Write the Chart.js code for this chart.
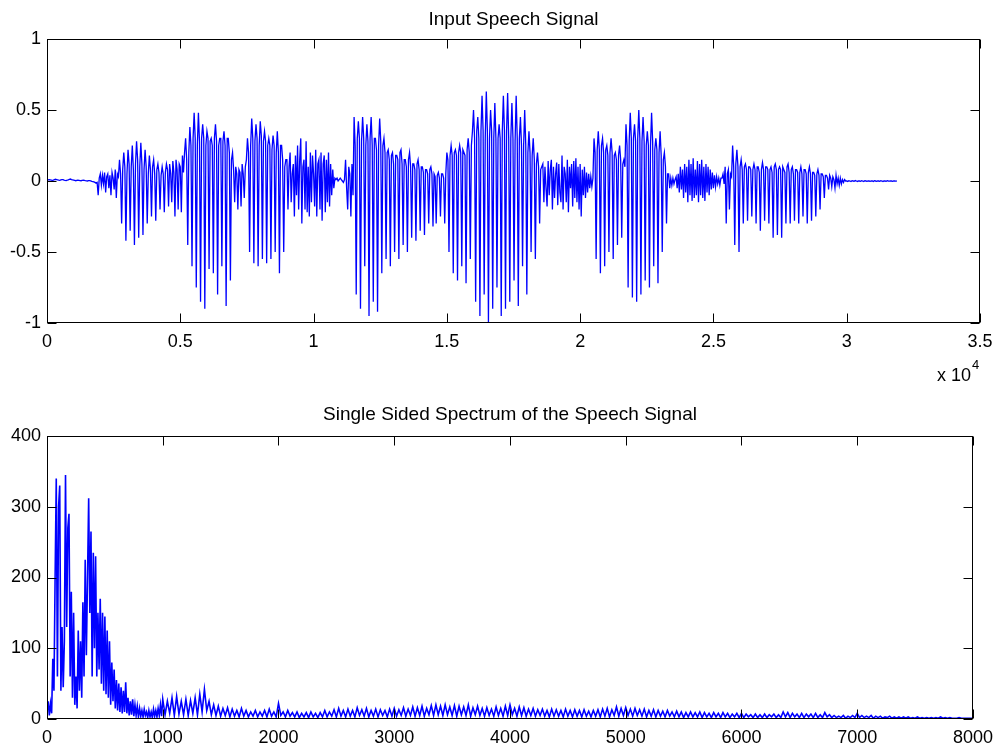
<!DOCTYPE html>
<html><head><meta charset="utf-8">
<script src="https://cdn.jsdelivr.net/npm/chart.js@4.4.1/dist/chart.umd.min.js"></script>
<style>
html,body{margin:0;padding:0;background:#fff;}
#wrap{position:relative;width:1001px;height:746px;overflow:hidden;}
.c{position:absolute;left:0;width:1001px;}
</style></head><body>
<div id="wrap">
<div class="c" style="top:0;height:390px"><canvas id="c1"></canvas></div>
<div class="c" style="top:390px;height:356px"><canvas id="c2"></canvas></div>
</div>
<script>
// ---- data ----
const signalTitle = "Input Speech Signal";
const spectrumTitle = "Single Sided Spectrum of the Speech Signal";
const signalSampleStep = 40;        // samples between plotted points
const signalXTicks = [0,5000,10000,15000,20000,25000,30000,35000];
const signalYTicks = [-1,-0.5,0,0.5,1];
const signal = [
 // 0 - 0.19 (x10^4): silence
 0.005,0.008,0.010,0.008,0.006,0.004,0.006,0.010,0.012,0.010,
 0.008,0.006,0.005,0.008,0.010,0.009,0.006,0.004,0.003,0.006,
 0.008,0.012,0.014,0.010,0.008,0.006,0.004,0.002,0.004,0.006,
 0.005,0.003,0.002,0.004,0.006,0.004,0.002,0.001,0.000,0.002,
 0.003,0.001,-0.002,-0.004,-0.006,-0.010,-0.015,-0.010,
 // 0.19 - 0.27
 -0.10,0.02,0.05,-0.03,0.04,-0.02,0.06,-0.08,0.03,0.05,
 -0.05,0.04,-0.10,0.06,0.02,-0.06,0.08,-0.12,0.05,0.03,
 // 0.27 - 0.45
 0.15,0.05,-0.30,0.08, 0.20,0.10,-0.42,0.05, 0.22,0.12,-0.35,0.10, 0.25,0.08,-0.45,0.12,
 0.28,0.15,-0.40,0.10, 0.27,0.12,-0.38,0.08, 0.22,0.10,-0.30,0.05, 0.18,0.08,-0.25,0.10,
 0.15,0.05,-0.28,0.08, 0.12,0.06,-0.20,0.04, 0.10,0.05,-0.22,0.06, 0.12,
 // 0.45 - 0.52
 0.08,-0.18,0.12,0.05, -0.15,0.14,0.06,-0.25, 0.15,0.08,-0.20,0.12, 0.10,-0.22,0.18,0.06, 0.20,
 // 0.52 - 0.70
 0.30,0.15,-0.45,0.20, 0.38,0.25,-0.60,0.30, 0.48,0.30,-0.75,0.25, 0.48,0.28,-0.85,0.30,
 0.40,0.30,-0.90,0.25, 0.35,0.30,-0.62,0.28, 0.30,0.25,-0.65,0.30, 0.40,0.28,-0.80,0.25,
 0.30,0.30,-0.60,0.28, 0.35,0.25,-0.88,0.30, 0.30,0.20,-0.70,0.15, 0.20,
 // 0.70 - 0.75
 0.08,-0.15,0.10,0.05, -0.20,0.08,0.06,-0.18, 0.12,0.05,-0.12,0.10, 0.15,
 // 0.75 - 0.90
 0.30,0.20,-0.50,0.25, 0.44,0.30,-0.58,0.28, 0.40,0.30,-0.60,0.25, 0.42,0.32,-0.55,0.28,
 0.35,0.28,-0.58,0.25, 0.30,0.25,-0.55,0.22, 0.32,0.25,-0.50,0.20, 0.35,0.20,-0.65,0.25,
 0.25,0.15,-0.50,0.10, 0.15,
 // 0.90 - 1.08
 0.15,-0.20,0.10,0.20,-0.15,0.05,0.12,-0.25,0.18,-0.10,
 0.25,-0.20,0.15,0.30,-0.30,0.10,0.15,-0.20,0.28,-0.22,
 0.10,-0.25,0.20,-0.15,0.18,0.05,-0.18,0.22,-0.25,0.12,
 0.15,-0.20,0.20,-0.28,0.12,0.18,-0.22,0.15,-0.15,0.20,
 -0.18,0.12,-0.10,0.08,-0.05,
 // 1.08 - 1.15
 0.02,0.01,0.02,0.00,0.01,0.02,0.01,0.00,-0.01,0.01,
 0.15,-0.05,-0.20,0.10,0.05,-0.25,0.12,-0.10,
 // 1.15 - 1.27
 0.45,0.25,-0.80,0.30, 0.42,0.30,-0.90,0.28, 0.45,0.30,-0.60,0.25, 0.40,0.28,-0.95,0.30,
 0.45,0.25,-0.85,0.30, 0.30,0.22,-0.92,0.25, 0.44,0.28,-0.65,0.25, 0.30,0.20,
 // 1.27 - 1.45
 -0.55,0.20,0.22,0.15, -0.60,0.18,0.20,0.12, -0.50,0.18,0.18,0.15, -0.55,0.20,0.22,0.12,
 -0.45,0.15,0.15,0.10, -0.50,0.15,0.20,0.10, -0.40,0.12,0.12,0.08, -0.42,0.12,0.15,0.08,
 -0.35,0.10,0.10,0.06, -0.38,0.08,0.08,0.05, -0.30,0.08,0.10,0.05, -0.32,
 // 1.45 - 1.50
 0.05,0.03,-0.30,0.04, 0.06,0.02,-0.25,0.05, 0.05,0.02,-0.30,0.05,
 // 1.50 - 1.60
 0.20,0.15,-0.50,0.18, 0.25,0.18,-0.65,0.20, 0.22,0.18,-0.70,0.20, 0.25,0.20,-0.60,0.22,
 0.20,0.18,-0.72,0.22, 0.30,0.20,-0.55,0.25, 0.35,
 // 1.60 - 1.72
 0.50,0.30,-0.85,0.35, 0.45,0.30,-0.95,0.35, 0.60,0.35,-0.80,0.30, 0.63,0.35,-1.00,0.30,
 0.50,0.35,-0.90,0.30, 0.55,0.30,-0.75,0.30, 0.40,0.30,-0.95,0.35, 0.60,0.35,
 // 1.72 - 1.86
 -0.90,0.35,0.62,0.30, -0.85,0.30,0.55,0.30, -0.70,0.28,0.60,0.30, -0.88,0.30,0.45,0.25,
 -0.60,0.25,0.50,0.25, -0.80,0.20,0.35,0.20, -0.50,0.18,0.30,0.15, -0.55,0.12,0.20,0.10,
 -0.30,0.08,0.10,
 // 1.86 - 2.05
 0.12,-0.15,0.10,-0.05,-0.18,0.14,-0.10,0.08,0.15,-0.20,
 0.10,-0.12,0.05,0.13,-0.17,0.12,-0.08,-0.15,0.18,-0.20,
 0.10,0.05,-0.15,0.15,-0.22,0.10,-0.05,0.12,-0.18,0.14,
 -0.12,0.16,-0.15,0.10,-0.20,0.12,-0.25,0.08,-0.10,0.10,
 -0.12,0.06,-0.08,0.05,-0.05,0.03,-0.04,0.02,
 // 2.05 - 2.17
 0.30,0.20,-0.55,0.22, 0.35,0.22,-0.65,0.25, 0.30,0.20,-0.60,0.22, 0.25,0.18,-0.50,0.20,
 0.30,0.20,-0.55,0.18, 0.20,0.15,-0.45,0.18, 0.25,0.15,-0.40,0.12, 0.15,0.10,
 // 2.17 - 2.33
 0.40,0.25,-0.75,0.28, 0.48,0.30,-0.82,0.30, 0.40,0.28,-0.85,0.30, 0.50,0.30,-0.80,0.28,
 0.45,0.28,-0.70,0.25, 0.35,0.25,-0.75,0.25, 0.48,0.28,-0.60,0.22, 0.30,0.22,-0.72,0.20,
 0.35,0.18,-0.50,0.15, 0.20,0.10,-0.30,0.05,
 // 2.33 - 2.36
 0.05,-0.05,0.02,-0.03,0.02,-0.02,0.01,
 // 2.36 - 2.53
 0.03,-0.05,0.05,-0.08,0.10,-0.06,0.08,-0.12,0.12,-0.08,
 0.10,-0.15,0.15,-0.10,0.12,-0.14,0.16,-0.12,0.08,-0.10,
 0.14,-0.15,0.12,-0.10,0.15,-0.12,0.10,-0.14,0.12,-0.08,
 0.10,-0.10,0.08,-0.06,0.06,-0.05,0.04,-0.04,0.03,-0.02,
 0.02,-0.03,0.02,
 // 2.53 - 2.57
 0.02,0.05,-0.02,0.10,-0.30,0.05,0.08,-0.20,0.05,0.03,
 // 2.57 - 2.78
 0.25,0.10,-0.45,0.12, 0.22,0.10,-0.50,0.10, 0.15,0.08,-0.30,0.10, 0.12,0.08,-0.28,0.10,
 0.10,0.08,-0.25,0.08, 0.12,0.08,-0.30,0.10, 0.10,0.06,-0.35,0.08, 0.13,0.08,-0.28,0.10,
 0.10,0.08,-0.30,0.08, 0.10,0.06,-0.40,0.10, 0.12,0.08,-0.38,0.08, 0.10,0.08,-0.40,0.10,
 0.08,0.06,-0.30,0.10,
 // 2.78 - 2.93
 0.12,0.06,-0.30,0.08, 0.10,0.05,-0.28,0.08, 0.08,0.06,-0.30,0.06, 0.10,0.05,-0.25,0.08,
 0.08,0.05,-0.30,0.06, 0.10,0.05,-0.28,0.06, 0.06,0.04,-0.25,0.05, 0.08,0.04,-0.20,0.05,
 0.05,0.03,-0.12,0.04, 0.04,0.02,
 // 2.93 - 3.00
 -0.06,0.04,0.02,-0.04,0.03,0.01,-0.05,0.04,-0.02,0.02,
 -0.03,0.02,-0.02,0.01,-0.01,0.01,0.00,
 // 3.00 - 3.19: silence
 0.000,-0.004,0.002,0.000,-0.003,0.002,0.000,-0.002,0.003,0.000,
 -0.003,0.001,0.000,-0.002,0.002,0.000,-0.003,0.002,0.000,-0.002,
 0.001,0.000,-0.002,0.001,0.000,-0.003,0.002,0.000,-0.002,0.001,
 0.000,-0.002,0.002,0.000,-0.003,0.001,0.000,-0.002,0.002,0.000,
 -0.001,0.001,0.000,-0.002,0.001,0.000,-0.001,0.000
];

const spectrumXTicks = [0,1000,2000,3000,4000,5000,6000,7000,8000];
const spectrumYTicks = [0,100,200,300,400];
const spectrumLowStep = 10;         // Hz between points, 0 - 990 Hz
const spectrumLow = [
 10,25,5,22,8,85,40,200,340,60,
 300,330,40,130,45,110,345,130,270,290,
 60,180,30,150,20,60,15,125,40,110,
 30,165,60,225,90,200,312,150,265,60,
 235,100,230,60,150,70,170,50,150,40,
 145,35,125,30,110,20,80,25,70,15,
 55,12,50,10,45,8,40,10,52,8,
 30,5,25,6,28,4,20,5,18,3,
 15,4,12,3,14,5,10,2,12,3,
 10,2,14,4,12,3,15,5,20,4
];
const spectrumHighStart = 1000;     // Hz
const spectrumHighStep = 20;        // Hz between points, 1000 - 8000 Hz
const spectrumHigh = [
 28,6,25,8,30,5,32,7,25,6,
 28,5,26,8,30,6,35,10,42,12,
 25,6,20,5,18,4,15,5,16,3,
 14,4,12,3,15,4,12,3,10,4,
 12,3,10,4,12,3,14,4,10,3,
 22,5,10,3,12,4,9,3,10,2,
 8,3,9,2,10,3,8,2,9,3,
 12,3,10,4,13,3,15,4,12,3,
 14,4,12,3,16,5,13,4,15,3,
 12,4,14,3,13,5,12,3,14,4,
 15,4,13,5,16,4,14,5,17,4,
 16,5,18,4,15,6,19,5,20,6,
 18,5,20,6,17,5,19,4,18,6,
 17,5,20,4,16,6,18,5,15,4,
 16,5,14,4,17,5,15,4,18,5,
 20,6,15,4,17,5,16,4,14,5,
 15,4,13,5,14,4,12,3,14,4,
 13,4,12,3,14,4,12,3,13,4,
 12,3,13,4,11,3,12,4,13,3,
 14,4,15,3,13,5,17,4,15,5,
 16,5,14,4,15,5,13,4,14,3,
 12,4,13,3,12,4,11,3,12,4,
 10,3,11,3,10,2,9,3,10,3,
 9,3,10,2,9,3,8,2,9,3,
 8,2,9,3,8,2,7,3,8,2,
 8,2,7,3,6,2,7,2,6,2,
 7,2,6,3,7,2,6,2,10,3,
 9,2,8,3,7,2,8,2,7,3,
 7,2,8,2,6,2,9,3,6,2,
 5,2,4,2,5,1,4,2,5,2,
 8,2,5,2,4,2,5,1,4,2,
 4,1,3,2,4,1,3,1,3,1,
 3,1,3,1,2,1,3,1,2,1,
 2,1,2,1,2,1,3,1,2,1,
 2,1,1,1,2,1,1,1,1,1,
 1
];

// ---- rendering ----
const FONT = "'Liberation Sans', Arial, Helvetica, sans-serif";

const boxTicks = {
  id: 'boxTicks',
  afterDraw(chart, args, opts) {
    const {ctx, chartArea: a, scales} = chart;
    ctx.save();
    ctx.strokeStyle = '#000';
    ctx.lineWidth = 1;
    const L = Math.round(a.left) + 0.5, R = Math.round(a.right) - 0.5;
    const T = Math.round(a.top) + 0.5, B = Math.round(a.bottom) - 0.5;
    const tl = 9;
    ctx.beginPath();
    scales.x.ticks.forEach(t => {
      const p = Math.round(scales.x.getPixelForValue(t.value)) + 0.5;
      ctx.moveTo(p, B); ctx.lineTo(p, B - tl);
      ctx.moveTo(p, T); ctx.lineTo(p, T + tl);
    });
    scales.y.ticks.forEach(t => {
      const p = Math.round(scales.y.getPixelForValue(t.value)) + 0.5;
      ctx.moveTo(L, p); ctx.lineTo(L + tl, p);
      ctx.moveTo(R, p); ctx.lineTo(R - tl, p);
    });
    ctx.stroke();
    ctx.strokeRect(L, T, R - L, B - T);
    // texts
    ctx.fillStyle = '#000';
    ctx.textBaseline = 'alphabetic';
    ctx.textAlign = 'center';
    ctx.font = '19px ' + FONT;
    ctx.fillText(opts.title, (a.left + a.right) / 2, opts.titleY);
    if (opts.exponent) {
      ctx.font = '18px ' + FONT;
      ctx.textAlign = 'left';
      ctx.fillText('x 10', opts.expX, opts.expY);
      const w = ctx.measureText('x 10').width;
      ctx.font = '13px ' + FONT;
      ctx.fillText(opts.exponent, opts.expX + w + 1, opts.expY - 12);
    }
    ctx.restore();
  }
};

function makeChart(id, cfg) {
  return new Chart(document.getElementById(id), {
    type: 'line',
    data: { datasets: [{
      data: cfg.points,
      borderColor: '#0000ff', borderWidth: cfg.lw, pointRadius: 0,
      tension: 0, fill: false
    }]},
    options: {
      responsive: true, maintainAspectRatio: false, animation: false,
      events: [],
      layout: { padding: { top: cfg.top, right: 21, left: 0, bottom: 0 } },
      plugins: {
        legend: { display: false }, tooltip: { enabled: false },
        boxTicks: { title: cfg.title, titleY: cfg.titleY, exponent: cfg.exponent, expX: 937, expY: cfg.expY }
      },
      scales: {
        x: {
          type: 'linear', min: cfg.xTicks[0], max: cfg.xTicks[cfg.xTicks.length - 1],
          afterBuildTicks: s => { s.ticks = cfg.xTicks.map(v => ({value: v})); },
          afterFit: s => { s.height = cfg.xAxisH; },
          grid: { display: false, drawTicks: false },
          border: { display: false },
          ticks: { color: '#000', font: { size: 18, family: FONT }, padding: cfg.xPad, maxRotation: 0,
                   callback: cfg.xFmt }
        },
        y: {
          type: 'linear', min: cfg.yTicks[0], max: cfg.yTicks[cfg.yTicks.length - 1],
          afterBuildTicks: s => { s.ticks = cfg.yTicks.map(v => ({value: v})); },
          afterFit: s => { s.width = 47; },
          grid: { display: false, drawTicks: false },
          border: { display: false },
          ticks: { color: '#000', font: { size: 18, family: FONT }, padding: 6,
                   callback: v => String(v) }
        }
      }
    },
    plugins: [boxTicks]
  });
}

const signalPoints = signal.map((v, i) => ({x: i * signalSampleStep, y: v}));
const spectrumPoints = spectrumLow.map((v, i) => ({x: i * spectrumLowStep, y: v}))
  .concat(spectrumHigh.map((v, i) => ({x: spectrumHighStart + i * spectrumHighStep, y: v})));

makeChart('c1', {
  points: signalPoints, lw: 1.3, xTicks: signalXTicks, yTicks: signalYTicks,
  top: 39, xAxisH: 390 - 323, xPad: 8, title: signalTitle, titleY: 25,
  exponent: '4', expY: 381,
  xFmt: v => String(+(v / 10000).toFixed(2))
});
makeChart('c2', {
  points: spectrumPoints, lw: 1.6, xTicks: spectrumXTicks, yTicks: spectrumYTicks,
  top: 46, xAxisH: 356 - 329, xPad: 8, title: spectrumTitle, titleY: 30,
  exponent: null, expY: 0,
  xFmt: v => String(v)
});
</script>
</body></html>
